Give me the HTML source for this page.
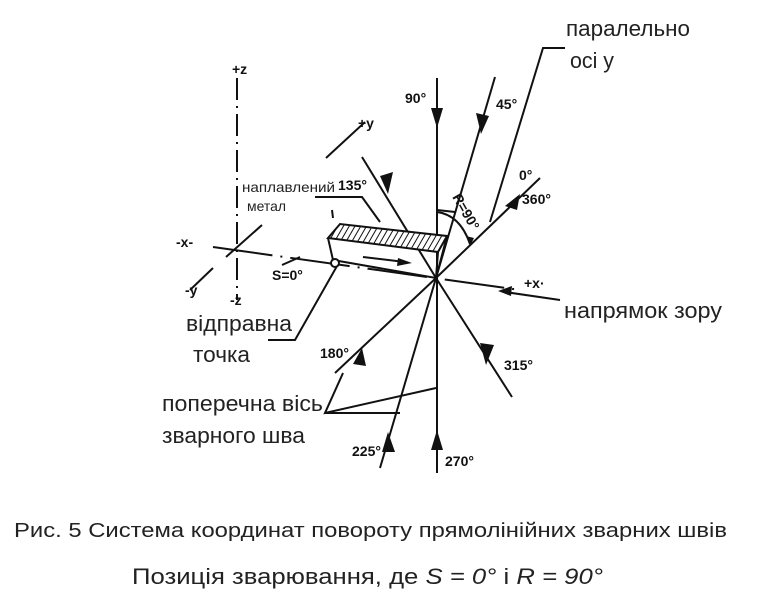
<!DOCTYPE html>
<html><head><meta charset="utf-8"><style>
html,body{margin:0;padding:0;background:#fff;}
svg{display:block;}
.l{font-family:"Liberation Sans",sans-serif;font-weight:bold;font-size:14px;fill:#111;}
.c{font-family:"Liberation Sans","Noto Sans CJK SC",sans-serif;font-size:22px;fill:#222;}
.s{font-family:"Liberation Sans",sans-serif;font-size:14px;fill:#222;}
</style></head><body>
<svg width="761" height="597" viewBox="0 0 761 597" xmlns="http://www.w3.org/2000/svg">
<defs>
<pattern id="h" width="5" height="5" patternUnits="userSpaceOnUse" patternTransform="rotate(30)">
<rect width="5" height="5" fill="#fff"/><line x1="0" y1="0" x2="0" y2="5" stroke="#111" stroke-width="2"/></pattern>
</defs>
<g stroke="#111" stroke-width="2" fill="none">
<line x1="237" y1="78" x2="237" y2="300" stroke-dasharray="22,6,2,6"/>
<line x1="190" y1="290" x2="213" y2="268"/>
<line x1="226" y1="257" x2="262" y2="225"/>
<line x1="326" y1="158" x2="365" y2="122"/>
<line x1="213" y1="247" x2="520" y2="290" stroke-dasharray="60,8,2,8"/>
<line x1="437" y1="78" x2="437" y2="473"/>
<line x1="495" y1="77" x2="436" y2="278"/>
<line x1="540" y1="178" x2="436" y2="278"/>
<line x1="362" y1="157" x2="436" y2="278"/>
<line x1="436" y1="278" x2="335" y2="373"/>
<line x1="436" y1="278" x2="380" y2="468"/>
<line x1="436" y1="278" x2="512" y2="397"/>
<polyline points="565,48 543,48 490,222"/>
<path d="M437,212 Q460,215 470,244"/>
<line x1="437" y1="210" x2="455" y2="212"/>
<polygon points="328,238 340,224 447,236 438,252" fill="url(#h)"/>
<polyline points="328,238 333,260 436,278 438,252"/>
<line x1="447" y1="236" x2="436" y2="278"/>
<line x1="332" y1="210" x2="333" y2="218"/>
<line x1="363" y1="257" x2="405" y2="262"/>
<polyline points="315,197 362,197 380,222"/>
<line x1="282" y1="265" x2="300" y2="257"/>
<polyline points="337,266 295,340 268,340"/>
<polyline points="343,373 325,413 436,388"/>
<line x1="325" y1="413" x2="400" y2="413"/>
<line x1="560" y1="300" x2="505" y2="292"/>
</g>
<circle cx="335" cy="263" r="4" fill="#fff" stroke="#111" stroke-width="2"/>
<g fill="#111">
<polygon points="437,128 431,108 443,108"/>
<polygon points="481,134 476,113 489,116"/>
<polygon points="505,206 520,194 517,210"/>
<polygon points="388,194 380,176 393,172"/>
<polygon points="362,348 353,364 366,366"/>
<polygon points="388,432 382,452 395,452"/>
<polygon points="437,430 431,450 443,450"/>
<polygon points="486,365 480,343 494,345"/>
<polygon points="412,263 398,258 397,266"/>
<polygon points="498,291 512,286 511,296"/>
<polygon points="470,246 466,236 474,238"/>
</g>
<text class="l" x="232" y="74">+z</text>
<text class="l" x="230" y="305">-z</text>
<text class="l" x="358" y="128">+y</text>
<text class="l" x="185" y="295">-y</text>
<text class="l" x="176" y="247">-x-</text>
<text class="l" x="524" y="288">+x·</text>
<text class="l" x="405" y="103">90°</text>
<text class="l" x="496" y="109">45°</text>
<text class="l" x="519" y="180">0°</text>
<text class="l" x="522" y="204">360°</text>
<text class="l" x="338" y="190">135°</text>
<text class="l" x="272" y="280">S=0°</text>
<text class="l" x="320" y="358">180°</text>
<text class="l" x="504" y="370">315°</text>
<text class="l" x="352" y="456">225°</text>
<text class="l" x="445" y="466">270°</text>
<text class="l" transform="translate(452,197) rotate(60)">R=90°</text>
<text class="s" x="242" y="192" textLength="93" lengthAdjust="spacingAndGlyphs">наплавлений</text>
<text class="s" x="247" y="211" textLength="39" lengthAdjust="spacingAndGlyphs">метал</text>
<text class="c" x="566" y="36" textLength="124" lengthAdjust="spacingAndGlyphs">паралельно</text>
<text class="c" x="570" y="68" textLength="44" lengthAdjust="spacingAndGlyphs">осі у</text>
<text class="c" x="564" y="318" textLength="158" lengthAdjust="spacingAndGlyphs">напрямок зору</text>
<text class="c" x="186" y="331" textLength="106" lengthAdjust="spacingAndGlyphs">відправна</text>
<text class="c" x="193" y="362" textLength="57" lengthAdjust="spacingAndGlyphs">точка</text>
<text class="c" x="162" y="411" textLength="161" lengthAdjust="spacingAndGlyphs">поперечна вісь</text>
<text class="c" x="162" y="443" textLength="143" lengthAdjust="spacingAndGlyphs">зварного шва</text>
<text class="c" x="14" y="537" style="font-size:20px" textLength="713" lengthAdjust="spacingAndGlyphs">Рис. 5 Система координат повороту прямолінійних  зварних швів</text>
<text class="c" x="132" y="584" textLength="471" lengthAdjust="spacingAndGlyphs">Позиція зварювання, де <tspan font-style="italic">S = 0°</tspan> і <tspan font-style="italic">R = 90°</tspan></text>
</svg>
</body></html>
